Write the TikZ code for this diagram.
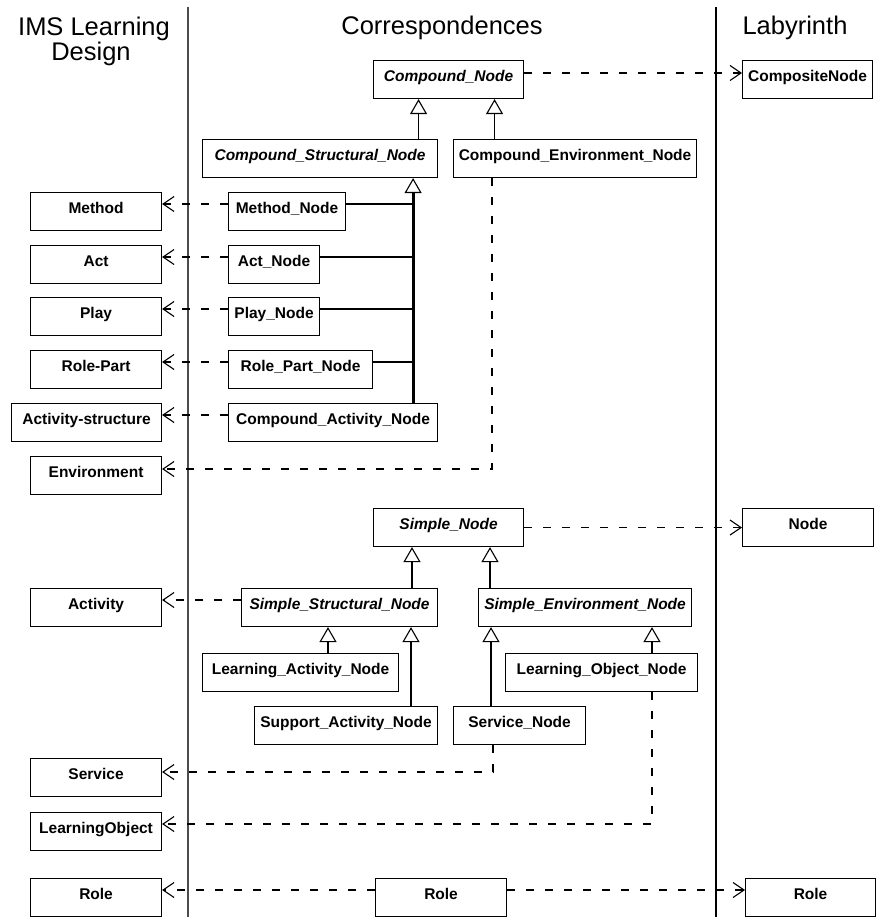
\documentclass[tikz,border=0pt]{standalone}
\usepackage{fontspec}
\setmainfont{Liberation Sans}
\usetikzlibrary{arrows.meta,calc}
\tikzset{
  box/.style={draw, line width=1.1pt, anchor=north west, inner sep=0pt,
    minimum height=38pt, text height=11pt, text depth=8pt,
    font=\fontsize{15.5}{17}\selectfont\bfseries},
  abox/.style={box, font=\fontsize{15.5}{17}\selectfont\bfseries\itshape},
  dep/.style={line width=1.1pt, dash pattern=on 8pt off 11pt,
    -{Straight Barb[length=11pt,width=15pt,line width=1.1pt]}},
  gen/.style={line width=1.1pt,
    -{Triangle[open,fill=white,length=15pt,width=17pt,line width=1.1pt]}},
  genthick/.style={line width=2.8pt,
    -{Triangle[open,fill=white,length=15pt,width=17pt,line width=1.1pt]}},
  link/.style={line width=1.1pt},
  title/.style={font=\fontsize{25.5}{26}\selectfont, inner sep=0pt, anchor=base}
}
\begin{document}
\begin{tikzpicture}[x=1pt,y=-1pt]
\useasboundingbox (0,0) rectangle (877,917);

% column separators
\draw[line width=2pt, black!70] (188,7) -- (188,917);
\draw[line width=2.8pt, black] (716,7) -- (716,917);

% titles
\node[title] (t1) at (94,36) {IMS Learning};
\node[title] (t1b) at (91,61) {Design};
\node[title] (t2) at (442,35) {Correspondences};
\node[title] (t3) at (795,35) {Labyrinth};

% IMS LD column
\node[box, minimum width=131pt] (m)   at (30,192) {Method};
\node[box, minimum width=131pt] (act) at (30,245) {Act};
\node[box, minimum width=131pt] (play) at (30,297) {Play};
\node[box, minimum width=131pt] (rp)  at (30,350) {Role-Part};
\node[box, minimum width=150pt] (as)  at (11,403) {Activity-structure};
\node[box, minimum width=131pt] (env) at (30,456) {Environment};
\node[box, minimum width=131pt] (activity) at (30,588) {Activity};
\node[box, minimum width=131pt] (service) at (30,758) {Service};
\node[box, minimum width=131pt] (lo)  at (30,812) {LearningObject};
\node[box, minimum width=131pt] (roleL) at (30,878) {Role};

% correspondences column - compound
\node[abox, minimum width=150pt] (cn)  at (373,60) {Compound\_Node};
\node[abox, minimum width=235pt] (csn) at (202,139) {Compound\_Structural\_Node};
\node[box, minimum width=243pt] (cen)  at (453,139) {Compound\_Environment\_Node};
\node[box, minimum width=117pt] (mn)   at (228,192) {Method\_Node};
\node[box, minimum width=91pt]  (an)   at (228,245) {Act\_Node};
\node[box, minimum width=91pt]  (pn)   at (228,297) {Play\_Node};
\node[box, minimum width=144pt] (rpn)  at (228,350) {Role\_Part\_Node};
\node[box, minimum width=209pt] (can)  at (228,403) {Compound\_Activity\_Node};

% correspondences column - simple
\node[abox, minimum width=150pt] (sn)  at (373,508) {Simple\_Node};
\node[abox, minimum width=196pt] (ssn) at (241,588) {Simple\_Structural\_Node};
\node[abox, minimum width=213pt] (sen) at (478,588) {Simple\_Environment\_Node};
\node[box, minimum width=196pt] (lan)  at (202,653) {Learning\_Activity\_Node};
\node[box, minimum width=183pt] (san)  at (254,706) {Support\_Activity\_Node};
\node[box, minimum width=192pt] (lon)  at (505,653) {Learning\_Object\_Node};
\node[box, minimum width=132pt] (svn)  at (453,706) {Service\_Node};
\node[box, minimum width=131pt] (roleM) at (375,878) {Role};

% Labyrinth column
\node[box, minimum width=130pt] (comp)  at (742,60) {CompositeNode};
\node[box, minimum width=131pt] (nodeR) at (742,508) {Node};
\node[box, minimum width=130pt] (roleR) at (745,878) {Role};

% helper coordinates
\coordinate (g1) at ([xshift=-30pt]cn.south);
\coordinate (g2) at ([xshift=46pt]cn.south);
\coordinate (spine) at ([xshift=-25pt]csn.south east);
\coordinate (mnr) at ([yshift=-12pt]mn.north east);
\coordinate (anr) at ([yshift=-12pt]an.north east);
\coordinate (pnr) at ([yshift=-12pt]pn.north east);
\coordinate (rpnr) at ([yshift=-12pt]rpn.north east);
\coordinate (cex) at ([xshift=39pt]cen.south west);
\coordinate (s1) at ([xshift=39pt]sn.south west);
\coordinate (s2) at ([xshift=117pt]sn.south west);
\coordinate (s3) at ([xshift=87pt]ssn.south west);
\coordinate (s4) at ([xshift=170pt]ssn.south west);
\coordinate (s5) at ([xshift=13pt]sen.south west);
\coordinate (s6) at ([xshift=174pt]sen.south west);
\coordinate (svx) at ([xshift=40pt]svn.south west);
\coordinate (lox) at ([xshift=147pt]lon.south west);

% generalisations (compound)
\draw[gen] (g1 |- csn.north) -- (g1);
\draw[gen] (g2 |- cen.north) -- (g2);
\draw[genthick] (spine |- can.north) -- (spine);
\draw[link] (mnr) -- (mnr -| spine);
\draw[link] (anr) -- (anr -| spine);
\draw[link] (pnr) -- (pnr -| spine);
\draw[link] (rpnr) -- (rpnr -| spine);

% generalisations (simple)
\draw[genthick] (s1 |- ssn.north) -- (s1);
\draw[genthick] (s2 |- sen.north) -- (s2);
\draw[gen] (s3 |- lan.north) -- (s3);
\draw[gen] (s4 |- san.north) -- (s4);
\draw[genthick] (s5 |- svn.north) -- (s5);
\draw[gen] (s6 |- lon.north) -- (s6);

% correspondences (dashed)
\draw[dep] ([yshift=-13pt]cn.north east) -- ([yshift=-13pt]comp.north west);
\draw[dep] ([yshift=-12pt]mn.north west) -- ([yshift=-12pt]m.north east);
\draw[dep] ([yshift=-12pt]an.north west) -- ([yshift=-12pt]act.north east);
\draw[dep] ([yshift=-12pt]pn.north west) -- ([yshift=-12pt]play.north east);
\draw[dep] ([yshift=-12pt]rpn.north west) -- ([yshift=-12pt]rp.north east);
\draw[dep] ([yshift=-12pt]can.north west) -- ([yshift=-12pt]as.north east);
\draw[dep] (cex) |- ([yshift=-13pt]env.north east);
\draw[dep] (sn.east) -- (nodeR.west);
\draw[dep] ([yshift=-12pt]ssn.north west) -- ([yshift=-12pt]activity.north east);
\draw[dep] (svx) |- ([yshift=-14pt]service.north east);
\draw[dep] (lox) |- ([yshift=-12pt]lo.north east);
\draw[dep] ([yshift=-12pt]roleM.north west) -- ([yshift=-12pt]roleL.north east);
\draw[dep] ([yshift=-12pt]roleM.north east) -- ([yshift=-12pt]roleR.north west);
\end{tikzpicture}
\end{document}
